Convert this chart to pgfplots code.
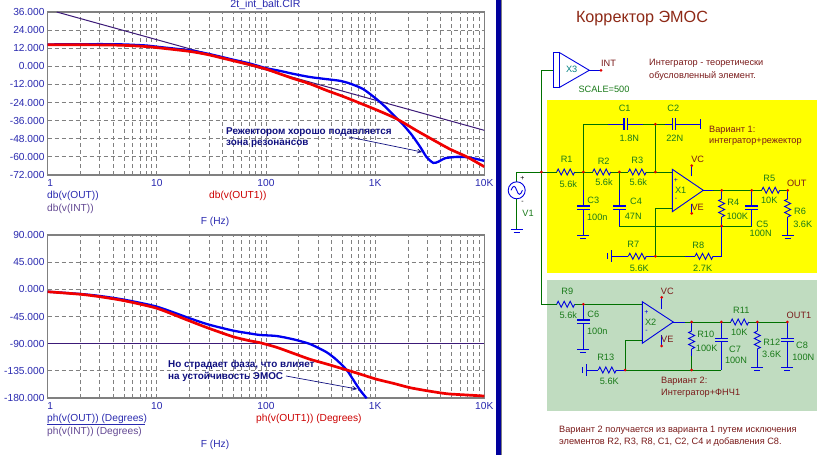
\documentclass[border=0pt]{standalone}
\usepackage{fontspec}
\setmainfont{Liberation Sans}
\usepackage{pgfplots}
\pgfplotsset{compat=1.18}
\usetikzlibrary{arrows.meta}
\definecolor{tickblue}{HTML}{2A2AB0}
\definecolor{curveblue}{HTML}{0000F0}
\definecolor{curvered}{HTML}{F00000}
\definecolor{intpurple}{HTML}{3C1A78}
\definecolor{gridgray}{HTML}{808080}
\definecolor{txtred}{HTML}{7A1A1A}
\definecolor{txtgreen}{HTML}{1A7A1A}
\definecolor{wiregreen}{HTML}{007000}
\definecolor{elemblue}{HTML}{0000E0}
\definecolor{dotred}{HTML}{E00000}
\definecolor{schyellow}{HTML}{FFFF00}
\definecolor{schgreen}{HTML}{C0DCC0}
\definecolor{annotblue}{HTML}{101080}
\newcommand{\fs}{\fontsize{9.2}{11}\selectfont}
\newcommand{\fsl}{\fontsize{10.2}{12}\selectfont}
\tikzset{
 wg/.style={draw=wiregreen,line width=0.9pt},
 bl/.style={draw=elemblue,line width=0.9pt},
 lb/.style={inner sep=0pt,font=\fs,text=txtgreen},
 lr/.style={inner sep=0pt,font=\fs,text=txtred},
 la/.style={inner sep=0pt,anchor=west,font=\fontsize{9.9}{12}\selectfont\bfseries,text=annotblue},
 lc/.style={inner sep=0pt,anchor=west,font=\fsl},
 gl/.style={draw=gridgray,line width=0.8pt,dash pattern=on 4pt off 3pt},
}
\newcommand{\resH}[2]{\draw[bl,line join=miter] (#1,#2) -- ++(1.5,-3) -- ++(3,6) -- ++(3,-6) -- ++(3,6) -- ++(3,-6) -- ++(3,6) -- ++(1.5,-3);}
\newcommand{\resV}[2]{\draw[bl,line join=miter] (#1,#2) -- ++(-3,1.5) -- ++(6,3) -- ++(-6,3) -- ++(6,3) -- ++(-6,3) -- ++(6,3) -- ++(-3,1.5);}
\newcommand{\capV}[2]{\draw[bl,line width=1.1pt] (#1-6.3,#2) -- ++(12.6,0) (#1-6.3,#2+3.3) -- ++(12.6,0);}
\newcommand{\capH}[2]{\draw[bl,line width=1.1pt] (#1,#2-5.8) -- ++(0,11.6) (#1+3.3,#2-5.8) -- ++(0,11.6);}
\newcommand{\gnd}[2]{\draw[bl] (#1-6,#2) -- ++(12,0) (#1-3,#2+3) -- ++(6,0);}
\newcommand{\gndV}[2]{\draw[bl] (#1,#2-6) -- ++(0,12) (#1-3.5,#2-3) -- ++(0,6);}
\newcommand{\dt}[2]{\fill[dotred] (#1,#2) circle (1.5);}
\begin{document}
\begin{tikzpicture}
\useasboundingbox (0,0) rectangle (829pt,455pt);
\fill[white] (0,0) rectangle (829pt,455pt);
% upper axis
\begin{axis}[at={(47.7pt,280pt)},anchor=south west,
 width=436.6pt,height=163pt,scale only axis,
 xmode=log,log basis x=10,xmin=1,xmax=10000,
 xtick={1,10,100,1000,10000},
 minor xtick={2,3,4,5,6,7,8,9,20,30,40,50,60,70,80,90,200,300,400,500,600,700,800,900,2000,3000,4000,5000,6000,7000,8000,9000},
 xticklabels={\hspace*{5pt}1,10,100,1K,10K},
 tick style={draw=none},
 xmajorgrids=false,xminorgrids=true,ymajorgrids=false,
 minor grid style={draw=gridgray,line width=0.8pt,dash pattern=on 4pt off 3pt},
 axis line style={draw=gridgray,line width=1.1pt},
 every tick label/.append style={font=\fontsize{10.2}{12}\selectfont,text=tickblue},
 yticklabel style={anchor=east,inner sep=0pt,xshift=-3pt},
 xticklabel style={anchor=center,inner sep=0pt,yshift=-8pt},
 ymin=-72,ymax=36,
 ytick={-72,-60,-48,-36,-24,-12,0,12,24,36},
 yticklabels={-72.000,-60.000,-48.000,-36.000,-24.000,-12.000,0.000,12.000,24.000,36.000}]
\foreach \f in {10,100,1000} {\edef\tmp{\noexpand\draw[gl] (axis cs:\f,-72) -- (axis cs:\f,36);}\tmp}
\foreach \v in {-60,-48,-36,-24,-12,0,12,24} {\edef\tmp{\noexpand\draw[gl] (axis cs:1,\v) -- (axis cs:10000,\v);}\tmp}
\addplot[intpurple,line width=1pt] coordinates {(1.21,36) (10000,-42.4)};
\addplot[curveblue,line width=2.3pt,line join=round,smooth,tension=0.4] coordinates {
(1,14.5)(3,14.7)(5,14.5)(8,13.8)(10,13.0)(20,10.6)(30,8.2)(50,4.4)(70,2.0)(100,-1.2)
(134,-3.0)(178,-5.0)(253,-7.1)(360,-8.5)(476,-9.6)(588,-11.4)(778,-15.1)(1033,-21.8)
(1276,-27.7)(1575,-34.4)(1811,-38.8)(2163,-45.4)(2577,-53.2)(2965,-60.2)(3410,-64)
(3790,-63.2)(4365,-60.9)(5585,-60)(6890,-60.2)(8510,-61.4)(10000,-62.7)};
\addplot[curvered,line width=2.7pt,line join=round,smooth,tension=0.4] coordinates {
(1,14.3)(3,14.2)(5,13.9)(8,13.1)(10,12.4)(20,9.9)(30,7.6)(50,3.7)(70,1.2)(100,-1.8)
(134,-5.0)(178,-8.1)(253,-11.6)(360,-16)(511,-20)(726,-24.4)(1033,-28.9)(1467,-33.7)
(1811,-37.3)(2404,-42.6)(3410,-48.8)(4853,-54.9)(6890,-59.9)(10000,-66.5)};
\end{axis}
% lower axis
\begin{axis}[at={(47.7pt,57pt)},anchor=south west,
 width=436.6pt,height=163pt,scale only axis,
 xmode=log,log basis x=10,xmin=1,xmax=10000,
 xtick={1,10,100,1000,10000},
 minor xtick={2,3,4,5,6,7,8,9,20,30,40,50,60,70,80,90,200,300,400,500,600,700,800,900,2000,3000,4000,5000,6000,7000,8000,9000},
 xticklabels={\hspace*{5pt}1,10,100,1K,10K},
 tick style={draw=none},
 xmajorgrids=false,xminorgrids=true,ymajorgrids=false,
 minor grid style={draw=gridgray,line width=0.8pt,dash pattern=on 4pt off 3pt},
 axis line style={draw=gridgray,line width=1.1pt},
 every tick label/.append style={font=\fontsize{10.2}{12}\selectfont,text=tickblue},
 yticklabel style={anchor=east,inner sep=0pt,xshift=-3pt},
 xticklabel style={anchor=center,inner sep=0pt,yshift=-8pt},
 ymin=-180,ymax=90,
 ytick={-180,-135,-90,-45,0,45,90},
 yticklabels={-180.000,-135.000,-90.000,-45.000,0.000,45.000,90.000}]
\foreach \f in {10,100,1000} {\edef\tmp{\noexpand\draw[gl] (axis cs:\f,-180) -- (axis cs:\f,90);}\tmp}
\foreach \v in {-135,-45,0,45} {\edef\tmp{\noexpand\draw[gl] (axis cs:1,\v) -- (axis cs:10000,\v);}\tmp}
\addplot[intpurple,line width=1.2pt] coordinates {(1,-90) (10000,-90)};
\addplot[curveblue,line width=2.3pt,line join=round,smooth,tension=0.4] coordinates {
(1,-3.9)(2,-7.7)(3,-11)(5,-17.1)(10,-28.7)(20,-48)(30,-58.5)(50,-68.4)(70,-72.9)(88,-75.6)
(125,-77.3)(178,-82.8)(253,-90.6)(360,-104.3)(444,-117)(549,-133.6)(631,-150)(726,-166.8)(836,-180.5)};
\addplot[curvered,line width=2.7pt,line join=round,smooth,tension=0.4] coordinates {
(1,-4)(2,-8.2)(3,-12.2)(5,-18.8)(10,-31.4)(20,-52.4)(30,-64.6)(50,-78.5)(70,-85)(88,-88.4)
(125,-96)(178,-106)(253,-115.9)(360,-123.7)(549,-133.6)(726,-140.3)(1033,-149)(1467,-155.7)
(2084,-162.9)(2965,-167.9)(4520,-172.9)(6890,-175)(10000,-176.7)};
\end{axis}
\begin{scope}[x=1pt,y=-1pt,yshift=455pt]
% chart texts
\node[lc,text=tickblue,anchor=center,font=\fontsize{10.6}{12}\selectfont] at (265.5,5) {2t\_int\_balt.CIR};
\node[lc,text=tickblue] at (47,196) {db(v(OUT))};
\node[lc,text=intpurple!80] at (47,209) {db(v(INT))};
\node[lc,text=curvered!85!black] at (209,196) {db(v(OUT1))};
\node[lc,text=tickblue,anchor=center] at (215,222) {F (Hz)};
\node[lc,text=tickblue] at (47,419) {ph(v(OUT)) (Degrees)};
\draw[tickblue,line width=0.8pt] (47,424) -- (145,424);
\node[lc,text=intpurple!80] at (47,432) {ph(v(INT)) (Degrees)};
\node[lc,text=curvered!85!black] at (256,419) {ph(v(OUT1)) (Degrees)};
\node[lc,text=tickblue,anchor=center] at (215,445) {F (Hz)};
\node[la] at (226,132) {Режектором хорошо подавляется};
\node[la] at (226,144) {зона резонансов};
\draw[annotblue,line width=0.7pt,-{Straight Barb[length=4pt,width=4pt]}] (349,137) -- (422,152);
\node[la] at (168,365) {Но страдает фаза, что влияет};
\node[la] at (168,377) {на устойчивость ЭМОС};
\draw[annotblue,line width=0.7pt,-{Straight Barb[length=4pt,width=4pt]}] (286,376) -- (357,389);
% divider
\fill[elemblue!70!black] (496,0) rectangle (500.5,455);
\fill[gridgray] (500.5,0) rectangle (502,455);
% panels
\fill[schyellow] (547,100) rectangle (817,273);
\fill[schgreen] (547,280) rectangle (817,411);
\node[inner sep=0pt,font=\fontsize{16.2}{18}\selectfont,text=txtred!85!orange] at (642,19) {Корректор ЭМОС};
% X3 and main wire
\draw[wg] (553.3,70.3) -- (541.3,70.3) -- (541.3,304.3) -- (557,304.3);
\draw[bl] (553.3,52.3) rectangle (559,87.7);
\draw[bl] (559,52.3) -- (589.3,70.3) -- (559,87.7);
\draw[bl] (589.3,70.3) -- (601,70.3); \dt{601}{70.3}
\node[lb,text=teal] at (571.7,69.3) {X3};
\node[lr] at (608.5,63.3) {INT};
\node[lb] at (604,89.3) {SCALE=500};
\node[lr,anchor=west] at (649,63.5) {Интегратор - теоретически};
\node[lr,anchor=west] at (649,76) {обусловленный элемент.};
% V1
\draw[wg] (516.7,181.8) -- (516.7,172) -- (556.7,172);
\draw[bl] (516.7,190.3) circle (8.5);
\draw[bl] (511,190.3) .. controls (513,185) and (515,185) .. (516.7,190.3) .. controls (518.4,195.6) and (520.4,195.6) .. (522.4,190.3);
\draw[wg] (516.7,198.8) -- (516.7,229.3); \gnd{516.7}{229.3}
\node[lb,text=black] at (522.5,178) {\fontsize{7}{8}\selectfont +};
\node[lb,text=black] at (522.5,202) {\fontsize{7}{8}\selectfont -};
\node[lb] at (528,213) {V1};
\dt{541.3}{172}
% variant 1 input chain
\resH{556.7}{172} \resH{592.7}{172} \resH{628.3}{172}
\draw[wg] (574.7,172) -- (592.7,172) (610.7,172) -- (628.3,172) (646.3,172) -- (672.3,172);
\node[lb] at (566.7,159.3) {R1}; \node[lb] at (568.3,184) {5.6k};
\node[lb] at (603.7,161.3) {R2}; \node[lb] at (604,182.7) {5.6k};
\node[lb] at (637.3,160.7) {R3}; \node[lb] at (638.3,182.7) {5.6k};
% C1 C2
\draw[wg] (583.3,172) -- (583.3,124.3) -- (608.3,124.3) (643.3,124.3) -- (665,124.3) (655.3,124.3) -- (655.3,172);
\draw[bl] (608.3,124.3) -- (624,124.3) (627.3,124.3) -- (643.3,124.3);
\capH{624}{124.3}
\draw[bl] (665,124.3) -- (672.3,124.3) (675.6,124.3) -- (700.3,124.3);
\capH{672.3}{124.3}
\draw[bl,line width=1.1pt] (700.3,119.5) -- ++(0,10);
\node[lb] at (624.7,108.7) {C1}; \node[lb] at (629.3,138.3) {1.8N};
\node[lb] at (673.3,108.7) {C2}; \node[lb] at (674.7,138.3) {22N};
\node[lr,anchor=west] at (709,130) {Вариант 1:};
\node[lr,anchor=west] at (709,142) {интегратор+режектор};
% C3 C4
\draw[wg] (583.3,172) -- (583.3,190); \draw[bl] (583.3,190) -- (583.3,206) (583.3,209.3) -- (583.3,235.7);
\capV{583.3}{206} \gnd{583.3}{235.7}
\node[lb] at (593.3,200) {C3}; \node[lb] at (597.3,217.3) {100n};
\draw[wg] (619.3,172) -- (619.3,190); \draw[bl] (619.3,190) -- (619.3,206) (619.3,209.3) -- (619.3,226);
\capV{619.3}{206}
\draw[wg] (619.3,226) -- (751.7,226);
\node[lb] at (636,201.3) {C4}; \node[lb] at (633.3,216.3) {47N};
% X1
\draw[bl] (672.3,169.3) -- (672.3,211.7) -- (703.3,190.3) -- cycle;
\draw[bl] (691.7,176.5) -- (691.7,165.7) (691.7,204) -- (691.7,213.3);
\dt{691.7}{165.7} \dt{691.7}{213.3}
\node[lb] at (680.7,190.7) {X1};
\node[lb,text=elemblue] at (676,180) {\fontsize{7}{8}\selectfont +};
\node[lb,text=elemblue] at (676,199.5) {\fontsize{7}{8}\selectfont -};
\node[lr] at (697.7,159.3) {VC}; \node[lr] at (697.7,207.7) {VE};
% out
\draw[bl] (703.3,190.3) -- (713,190.3);
\draw[wg] (713,190.3) -- (761.7,190.3) (779.7,190.3) -- (787.7,190.3);
\resH{761.7}{190.3}
\node[lb] at (769.3,178) {R5}; \node[lb] at (769.3,200.3) {10K}; \node[lr] at (796.7,183.7) {OUT};
\draw[bl] (721.7,190.3) -- (721.7,199) (721.7,217) -- (721.7,226);
\resV{721.7}{199}
\node[lb] at (733.3,202.3) {R4}; \node[lb] at (737.3,216.3) {100K};
\draw[bl] (751.7,190.3) -- (751.7,206) (751.7,209.3) -- (751.7,226);
\capV{751.7}{206}
\node[lb] at (762.3,224.3) {C5}; \node[lb] at (760.7,233.7) {100N};
\draw[bl] (787.7,190.3) -- (787.7,199) (787.7,217) -- (787.7,235.7);
\resV{787.7}{199} \gnd{787.7}{235.7}
\node[lb] at (800,211.7) {R6}; \node[lb] at (802.7,224.7) {3.6K};
% feedback R7 R8
\draw[wg] (672.3,208.3) -- (655.3,208.3) -- (655.3,256.3) -- (685,256.3);
\gndV{611}{256.3}
\draw[bl] (611,256.3) -- (628.3,256.3) (646.3,256.3) -- (655.3,256.3);
\resH{628.3}{256.3}
\draw[bl] (685,256.3) -- (695,256.3) (713,256.3) -- (721.7,256.3) -- (721.7,226);
\resH{695}{256.3}
\node[lb] at (633.3,244) {R7}; \node[lb] at (639.3,268) {5.6K};
\node[lb] at (698.3,245.7) {R8}; \node[lb] at (702.7,268) {2.7K};
\dt{583.3}{172} \dt{619.3}{172} \dt{655.3}{172} \dt{655.3}{124.3}
\dt{721.7}{190.3} \dt{751.7}{190.3} \dt{787.7}{190.3} \dt{721.7}{226} \dt{655.3}{256.3}
% variant 2
\resH{556.7}{304.3}
\draw[wg] (574.7,304.3) -- (642.3,304.3);
\node[lb] at (567.3,291.7) {R9}; \node[lb] at (568.3,315.7) {5.6k};
\draw[bl] (583.3,304.3) -- (583.3,320) (583.3,323.3) -- (583.3,349.3);
\capV{583.3}{320} \gnd{583.3}{349.3}
\node[lb] at (593.3,314.3) {C6}; \node[lb] at (597.3,331.7) {100n};
\draw[bl] (642.3,301.7) -- (642.3,343.3) -- (673.3,322) -- cycle;
\draw[bl] (661.7,309.5) -- (661.7,297.3) (661.7,335) -- (661.7,346);
\dt{661.7}{297.3} \dt{661.7}{346}
\node[lb] at (650.7,322.7) {X2};
\node[lb,text=elemblue] at (646.5,312.5) {\fontsize{7}{8}\selectfont +};
\node[lb,text=elemblue] at (646.5,331.5) {\fontsize{7}{8}\selectfont -};
\node[lr] at (667.3,291.7) {VC}; \node[lr] at (667.3,339.3) {VE};
\draw[bl] (673.3,322) -- (685,322);
\draw[wg] (685,322) -- (730.7,322) (748.7,322) -- (787.3,322);
\resH{730.7}{322}
\node[lb] at (741.3,310.7) {R11}; \node[lb] at (739.3,332.3) {10K}; \node[lr] at (799,315.7) {OUT1};
\draw[bl] (691.7,322) -- (691.7,331) (691.7,349) -- (691.7,356);
\resV{691.7}{331}
\draw[wg] (691.7,356) -- (691.7,370);
\node[lb] at (705.7,334.3) {R10}; \node[lb] at (706.7,348.7) {100K};
\draw[bl] (721.3,322) -- (721.3,338.3) (721.3,341.6) -- (721.3,370);
\capV{721.3}{338.3}
\node[lb] at (735,349.3) {C7}; \node[lb] at (736,360.7) {100N};
\draw[bl] (757.3,322) -- (757.3,331) (757.3,349) -- (757.3,367.7);
\resV{757.3}{331} \gnd{757.3}{367.7}
\node[lb] at (771.7,342.7) {R12}; \node[lb] at (771.7,354.3) {3.6K};
\draw[bl] (787.3,322) -- (787.3,338.3) (787.3,341.6) -- (787.3,367.7);
\capV{787.3}{338.3} \gnd{787.3}{367.7}
\node[lb] at (802,345.3) {C8}; \node[lb] at (803.3,357.3) {100N};
\draw[wg] (642.3,340.3) -- (625,340.3) -- (625,370) -- (721.3,370);
\gndV{586.3}{370}
\draw[bl] (586.3,370) -- (598.3,370) (616.3,370) -- (625,370);
\resH{598.3}{370}
\node[lb] at (605.7,357.7) {R13}; \node[lb] at (609.3,381.7) {5.6K};
\dt{583.3}{304.3} \dt{691.7}{322} \dt{721.3}{322} \dt{757.3}{322} \dt{787.3}{322} \dt{625}{370} \dt{691.7}{370}
\node[lr,anchor=west] at (661,381.3) {Вариант 2:};
\node[lr,anchor=west] at (661,393.7) {Интегратор+ФНЧ1};
\node[lr,anchor=west] at (559,430) {Вариант 2 получается из варианта 1 путем исключения};
\node[lr,anchor=west] at (559,442) {элементов R2, R3, R8, C1, C2, C4 и добавления C8.};
\end{scope}
\end{tikzpicture}
\end{document}
